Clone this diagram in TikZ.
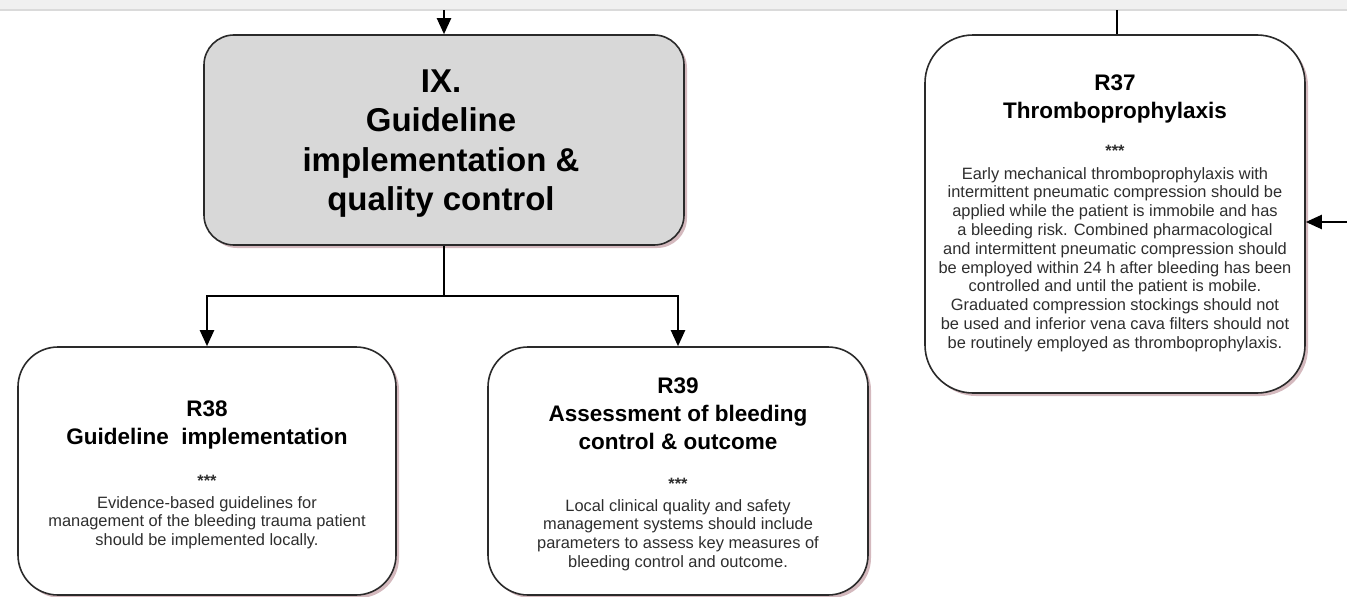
\documentclass[tikz,border=0pt]{standalone}
\usepackage{fontspec}
\setmainfont{Liberation Sans}
\usetikzlibrary{arrows.meta,shadows}

\definecolor{boxline}{HTML}{2A2A2A}
\definecolor{headfill}{HTML}{D8D8D8}
\definecolor{shadowpink}{HTML}{B88A92}
\definecolor{bandgray}{HTML}{F0F0F0}
\definecolor{bandline}{HTML}{DADADA}
\definecolor{bodygray}{HTML}{2E2E2E}

\newcommand{\headfont}{\fontsize{33}{39.5}\selectfont\bfseries}
\newcommand{\titlefont}{\fontsize{22.5}{28}\selectfont\bfseries}
\newcommand{\bodyfont}{\fontsize{16.4}{18.8}\selectfont}

\tikzset{
  card/.style={rectangle, draw=boxline, line width=1.6pt, fill=white,
    rounded corners=#1, inner sep=0pt,
    drop shadow={shadow xshift=3pt, shadow yshift=-3pt,
                 fill=shadowpink, opacity=0.6}},
  headcard/.style={card=30pt, fill=headfill},
  label/.style={anchor=base, inner sep=0pt, text=black},
  bodytext/.style={anchor=base, inner sep=0pt, text=bodygray},
  link/.style={line width=2.2pt, draw=black},
  arrowlink/.style={link, -{Triangle[length=16pt, width=14pt]}},
}

% multi-line centred text whose base is the first line's baseline
\newcommand{\lines}[1]{\begin{tabular}[t]{@{}c@{}}#1\end{tabular}}

\begin{document}
\begin{tikzpicture}[x=1pt, y=-1pt]
  \useasboundingbox (0,0) rectangle (1347,597);

  % grey band along the top edge
  \fill[bandgray] (0,0) rectangle (1347,9);
  \draw[bandline, line width=2pt] (0,10) -- (1347,10);

  % boxes
  \node[headcard, minimum width=480pt, minimum height=210pt] (ix) at (444,140) {};
  \node[card=48pt, minimum width=380pt, minimum height=358pt] (r37) at (1115,214) {};
  \node[card=40pt, minimum width=378pt, minimum height=248pt] (r38) at (207,471) {};
  \node[card=40pt, minimum width=380pt, minimum height=248pt] (r39) at (678,471) {};

  % section heading
  \node[label] (ixtxt) at (441,92)
    {\headfont\lines{IX.\\Guideline\\implementation \&\\quality control}};

  % R37
  \node[label] (r37title) at (1115,90) {\titlefont\lines{R37\\Thromboprophylaxis}};
  \node[bodytext] (r37stars) at (1115,156) {\bodyfont\bfseries ***};
  \node[bodytext] (r37body) at (1115,179) {\bodyfont\lines{%
    Early mechanical thromboprophylaxis with\\
    intermittent pneumatic compression should be\\
    applied while the patient is immobile and has\\
    a bleeding risk. Combined pharmacological\\
    and intermittent pneumatic compression should\\
    be employed within 24 h after bleeding has been\\
    controlled and until the patient is mobile.\\
    Graduated compression stockings should not\\
    be used and inferior vena cava filters should not\\
    be routinely employed as thromboprophylaxis.}};

  % R38
  \node[label] (r38title) at (207,416) {\titlefont\lines{R38\\Guideline\ \ implementation}};
  \node[bodytext] (r38stars) at (207,486) {\bodyfont\bfseries ***};
  \node[bodytext] (r38body) at (207,508) {\bodyfont\lines{%
    Evidence-based guidelines for\\
    management of the bleeding trauma patient\\
    should be implemented locally.}};

  % R39
  \node[label] (r39title) at (678,393) {\titlefont\lines{R39\\Assessment of bleeding\\control \& outcome}};
  \node[bodytext] (r39stars) at (678,489) {\bodyfont\bfseries ***};
  \node[bodytext] (r39body) at (678,511) {\bodyfont\lines{%
    Local clinical quality and safety\\
    management systems should include\\
    parameters to assess key measures of\\
    bleeding control and outcome.}};

  % connectors
  \coordinate (intop) at (444,10);
  \coordinate (r37in) at (1117,10);
  \coordinate (rightin) at (1347,222);
  \coordinate (split) at (444,296);

  \draw[arrowlink] (intop) -- (ix.north);
  \draw[link] (r37in) -- (r37.north -| r37in);
  \draw[arrowlink] (rightin) -- (r37.east |- rightin);
  \draw[link] (ix.south) -- (split);
  \draw[arrowlink] (split) -| (r38.north);
  \draw[arrowlink] (split) -| (r39.north);
\end{tikzpicture}
\end{document}
